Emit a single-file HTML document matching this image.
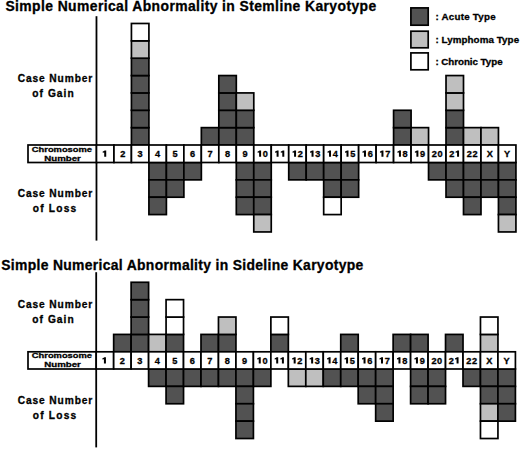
<!DOCTYPE html>
<html><head><meta charset="utf-8"><style>
html,body{margin:0;padding:0;background:#fff;}
body{width:520px;height:449px;overflow:hidden;}
svg{display:block;}
text{font-family:"Liberation Sans",sans-serif;font-weight:bold;fill:#000;stroke:#000;stroke-width:0.3px;}
</style></head><body>
<svg width="520" height="449" viewBox="0 0 520 449">
<text x="5.40" y="10.90" font-size="13.9" text-anchor="start" textLength="370.80" lengthAdjust="spacing">Simple Numerical Abnormality in Stemline Karyotype</text>
<line x1="96.48" y1="16.2" x2="96.48" y2="240.6" stroke="#000" stroke-width="1.8"/>
<rect x="131.43" y="127.64" width="17.48" height="17.36" fill="#525252" stroke="#000" stroke-width="1.7"/>
<rect x="131.43" y="110.28" width="17.48" height="17.36" fill="#525252" stroke="#000" stroke-width="1.7"/>
<rect x="131.43" y="92.92" width="17.48" height="17.36" fill="#525252" stroke="#000" stroke-width="1.7"/>
<rect x="131.43" y="75.56" width="17.48" height="17.36" fill="#525252" stroke="#000" stroke-width="1.7"/>
<rect x="131.43" y="58.20" width="17.48" height="17.36" fill="#525252" stroke="#000" stroke-width="1.7"/>
<rect x="131.43" y="40.84" width="17.48" height="17.36" fill="#bfbfbf" stroke="#000" stroke-width="1.7"/>
<rect x="131.43" y="23.48" width="17.48" height="17.36" fill="#ffffff" stroke="#000" stroke-width="1.7"/>
<rect x="201.34" y="127.64" width="17.48" height="17.36" fill="#525252" stroke="#000" stroke-width="1.7"/>
<rect x="218.82" y="127.64" width="17.48" height="17.36" fill="#525252" stroke="#000" stroke-width="1.7"/>
<rect x="218.82" y="110.28" width="17.48" height="17.36" fill="#525252" stroke="#000" stroke-width="1.7"/>
<rect x="218.82" y="92.92" width="17.48" height="17.36" fill="#525252" stroke="#000" stroke-width="1.7"/>
<rect x="218.82" y="75.56" width="17.48" height="17.36" fill="#525252" stroke="#000" stroke-width="1.7"/>
<rect x="236.30" y="127.64" width="17.48" height="17.36" fill="#525252" stroke="#000" stroke-width="1.7"/>
<rect x="236.30" y="110.28" width="17.48" height="17.36" fill="#525252" stroke="#000" stroke-width="1.7"/>
<rect x="236.30" y="92.92" width="17.48" height="17.36" fill="#bfbfbf" stroke="#000" stroke-width="1.7"/>
<rect x="393.59" y="127.64" width="17.48" height="17.36" fill="#525252" stroke="#000" stroke-width="1.7"/>
<rect x="393.59" y="110.28" width="17.48" height="17.36" fill="#525252" stroke="#000" stroke-width="1.7"/>
<rect x="411.07" y="127.64" width="17.48" height="17.36" fill="#bfbfbf" stroke="#000" stroke-width="1.7"/>
<rect x="446.02" y="127.64" width="17.48" height="17.36" fill="#525252" stroke="#000" stroke-width="1.7"/>
<rect x="446.02" y="110.28" width="17.48" height="17.36" fill="#525252" stroke="#000" stroke-width="1.7"/>
<rect x="446.02" y="92.92" width="17.48" height="17.36" fill="#bfbfbf" stroke="#000" stroke-width="1.7"/>
<rect x="446.02" y="75.56" width="17.48" height="17.36" fill="#bfbfbf" stroke="#000" stroke-width="1.7"/>
<rect x="463.50" y="127.64" width="17.48" height="17.36" fill="#bfbfbf" stroke="#000" stroke-width="1.7"/>
<rect x="480.97" y="127.64" width="17.48" height="17.36" fill="#bfbfbf" stroke="#000" stroke-width="1.7"/>
<rect x="148.91" y="162.50" width="17.48" height="17.36" fill="#525252" stroke="#000" stroke-width="1.7"/>
<rect x="148.91" y="179.86" width="17.48" height="17.36" fill="#525252" stroke="#000" stroke-width="1.7"/>
<rect x="148.91" y="197.22" width="17.48" height="17.36" fill="#525252" stroke="#000" stroke-width="1.7"/>
<rect x="166.39" y="162.50" width="17.48" height="17.36" fill="#525252" stroke="#000" stroke-width="1.7"/>
<rect x="166.39" y="179.86" width="17.48" height="17.36" fill="#525252" stroke="#000" stroke-width="1.7"/>
<rect x="183.87" y="162.50" width="17.48" height="17.36" fill="#525252" stroke="#000" stroke-width="1.7"/>
<rect x="236.30" y="162.50" width="17.48" height="17.36" fill="#525252" stroke="#000" stroke-width="1.7"/>
<rect x="236.30" y="179.86" width="17.48" height="17.36" fill="#525252" stroke="#000" stroke-width="1.7"/>
<rect x="236.30" y="197.22" width="17.48" height="17.36" fill="#525252" stroke="#000" stroke-width="1.7"/>
<rect x="253.77" y="162.50" width="17.48" height="17.36" fill="#525252" stroke="#000" stroke-width="1.7"/>
<rect x="253.77" y="179.86" width="17.48" height="17.36" fill="#525252" stroke="#000" stroke-width="1.7"/>
<rect x="253.77" y="197.22" width="17.48" height="17.36" fill="#525252" stroke="#000" stroke-width="1.7"/>
<rect x="253.77" y="214.58" width="17.48" height="17.36" fill="#bfbfbf" stroke="#000" stroke-width="1.7"/>
<rect x="288.73" y="162.50" width="17.48" height="17.36" fill="#525252" stroke="#000" stroke-width="1.7"/>
<rect x="306.20" y="162.50" width="17.48" height="17.36" fill="#525252" stroke="#000" stroke-width="1.7"/>
<rect x="323.68" y="162.50" width="17.48" height="17.36" fill="#525252" stroke="#000" stroke-width="1.7"/>
<rect x="323.68" y="179.86" width="17.48" height="17.36" fill="#525252" stroke="#000" stroke-width="1.7"/>
<rect x="323.68" y="197.22" width="17.48" height="17.36" fill="#ffffff" stroke="#000" stroke-width="1.7"/>
<rect x="341.16" y="162.50" width="17.48" height="17.36" fill="#525252" stroke="#000" stroke-width="1.7"/>
<rect x="341.16" y="179.86" width="17.48" height="17.36" fill="#525252" stroke="#000" stroke-width="1.7"/>
<rect x="428.54" y="162.50" width="17.48" height="17.36" fill="#525252" stroke="#000" stroke-width="1.7"/>
<rect x="446.02" y="162.50" width="17.48" height="17.36" fill="#525252" stroke="#000" stroke-width="1.7"/>
<rect x="446.02" y="179.86" width="17.48" height="17.36" fill="#525252" stroke="#000" stroke-width="1.7"/>
<rect x="463.50" y="162.50" width="17.48" height="17.36" fill="#525252" stroke="#000" stroke-width="1.7"/>
<rect x="463.50" y="179.86" width="17.48" height="17.36" fill="#525252" stroke="#000" stroke-width="1.7"/>
<rect x="463.50" y="197.22" width="17.48" height="17.36" fill="#525252" stroke="#000" stroke-width="1.7"/>
<rect x="480.97" y="162.50" width="17.48" height="17.36" fill="#525252" stroke="#000" stroke-width="1.7"/>
<rect x="480.97" y="179.86" width="17.48" height="17.36" fill="#525252" stroke="#000" stroke-width="1.7"/>
<rect x="498.45" y="162.50" width="17.48" height="17.36" fill="#525252" stroke="#000" stroke-width="1.7"/>
<rect x="498.45" y="179.86" width="17.48" height="17.36" fill="#525252" stroke="#000" stroke-width="1.7"/>
<rect x="498.45" y="197.22" width="17.48" height="17.36" fill="#525252" stroke="#000" stroke-width="1.7"/>
<rect x="498.45" y="214.58" width="17.48" height="17.36" fill="#bfbfbf" stroke="#000" stroke-width="1.7"/>
<rect x="28.00" y="145.00" width="68.48" height="17.50" fill="#ffffff" stroke="#000" stroke-width="1.7"/>
<rect x="96.48" y="145.00" width="17.48" height="17.50" fill="#ffffff" stroke="#000" stroke-width="1.7"/>
<path d="M106.22,150.40 L104.57,150.40 L104.02,150.95 L102.72,151.55 L102.72,152.65 L104.22,152.45 L104.22,156.75 L106.22,156.75Z" fill="#000"/>
<rect x="113.96" y="145.00" width="17.48" height="17.50" fill="#ffffff" stroke="#000" stroke-width="1.7"/>
<text x="122.70" y="156.75" font-size="9.2" text-anchor="middle">2</text>
<rect x="131.43" y="145.00" width="17.48" height="17.50" fill="#ffffff" stroke="#000" stroke-width="1.7"/>
<text x="140.17" y="156.75" font-size="9.2" text-anchor="middle">3</text>
<rect x="148.91" y="145.00" width="17.48" height="17.50" fill="#ffffff" stroke="#000" stroke-width="1.7"/>
<text x="157.65" y="156.75" font-size="9.2" text-anchor="middle">4</text>
<rect x="166.39" y="145.00" width="17.48" height="17.50" fill="#ffffff" stroke="#000" stroke-width="1.7"/>
<text x="175.13" y="156.75" font-size="9.2" text-anchor="middle">5</text>
<rect x="183.87" y="145.00" width="17.48" height="17.50" fill="#ffffff" stroke="#000" stroke-width="1.7"/>
<text x="192.60" y="156.75" font-size="9.2" text-anchor="middle">6</text>
<rect x="201.34" y="145.00" width="17.48" height="17.50" fill="#ffffff" stroke="#000" stroke-width="1.7"/>
<text x="210.08" y="156.75" font-size="9.2" text-anchor="middle">7</text>
<rect x="218.82" y="145.00" width="17.48" height="17.50" fill="#ffffff" stroke="#000" stroke-width="1.7"/>
<text x="227.56" y="156.75" font-size="9.2" text-anchor="middle">8</text>
<rect x="236.30" y="145.00" width="17.48" height="17.50" fill="#ffffff" stroke="#000" stroke-width="1.7"/>
<text x="245.03" y="156.75" font-size="9.2" text-anchor="middle">9</text>
<rect x="253.77" y="145.00" width="17.48" height="17.50" fill="#ffffff" stroke="#000" stroke-width="1.7"/>
<path d="M261.11,150.40 L259.46,150.40 L258.91,150.95 L257.61,151.55 L257.61,152.65 L259.11,152.45 L259.11,156.75 L261.11,156.75Z" fill="#000"/>
<text x="265.36" y="156.75" font-size="9.2" text-anchor="middle">0</text>
<rect x="271.25" y="145.00" width="17.48" height="17.50" fill="#ffffff" stroke="#000" stroke-width="1.7"/>
<path d="M278.59,150.40 L276.94,150.40 L276.39,150.95 L275.09,151.55 L275.09,152.65 L276.59,152.45 L276.59,156.75 L278.59,156.75Z" fill="#000"/>
<path d="M284.29,150.40 L282.64,150.40 L282.09,150.95 L280.79,151.55 L280.79,152.65 L282.29,152.45 L282.29,156.75 L284.29,156.75Z" fill="#000"/>
<rect x="288.73" y="145.00" width="17.48" height="17.50" fill="#ffffff" stroke="#000" stroke-width="1.7"/>
<path d="M296.07,150.40 L294.42,150.40 L293.87,150.95 L292.57,151.55 L292.57,152.65 L294.07,152.45 L294.07,156.75 L296.07,156.75Z" fill="#000"/>
<text x="300.32" y="156.75" font-size="9.2" text-anchor="middle">2</text>
<rect x="306.20" y="145.00" width="17.48" height="17.50" fill="#ffffff" stroke="#000" stroke-width="1.7"/>
<path d="M313.54,150.40 L311.89,150.40 L311.34,150.95 L310.04,151.55 L310.04,152.65 L311.54,152.45 L311.54,156.75 L313.54,156.75Z" fill="#000"/>
<text x="317.79" y="156.75" font-size="9.2" text-anchor="middle">3</text>
<rect x="323.68" y="145.00" width="17.48" height="17.50" fill="#ffffff" stroke="#000" stroke-width="1.7"/>
<path d="M331.02,150.40 L329.37,150.40 L328.82,150.95 L327.52,151.55 L327.52,152.65 L329.02,152.45 L329.02,156.75 L331.02,156.75Z" fill="#000"/>
<text x="335.27" y="156.75" font-size="9.2" text-anchor="middle">4</text>
<rect x="341.16" y="145.00" width="17.48" height="17.50" fill="#ffffff" stroke="#000" stroke-width="1.7"/>
<path d="M348.50,150.40 L346.85,150.40 L346.30,150.95 L345.00,151.55 L345.00,152.65 L346.50,152.45 L346.50,156.75 L348.50,156.75Z" fill="#000"/>
<text x="352.75" y="156.75" font-size="9.2" text-anchor="middle">5</text>
<rect x="358.64" y="145.00" width="17.48" height="17.50" fill="#ffffff" stroke="#000" stroke-width="1.7"/>
<path d="M365.97,150.40 L364.32,150.40 L363.77,150.95 L362.47,151.55 L362.47,152.65 L363.97,152.45 L363.97,156.75 L365.97,156.75Z" fill="#000"/>
<text x="370.22" y="156.75" font-size="9.2" text-anchor="middle">6</text>
<rect x="376.11" y="145.00" width="17.48" height="17.50" fill="#ffffff" stroke="#000" stroke-width="1.7"/>
<path d="M383.45,150.40 L381.80,150.40 L381.25,150.95 L379.95,151.55 L379.95,152.65 L381.45,152.45 L381.45,156.75 L383.45,156.75Z" fill="#000"/>
<text x="387.70" y="156.75" font-size="9.2" text-anchor="middle">7</text>
<rect x="393.59" y="145.00" width="17.48" height="17.50" fill="#ffffff" stroke="#000" stroke-width="1.7"/>
<path d="M400.93,150.40 L399.28,150.40 L398.73,150.95 L397.43,151.55 L397.43,152.65 L398.93,152.45 L398.93,156.75 L400.93,156.75Z" fill="#000"/>
<text x="405.18" y="156.75" font-size="9.2" text-anchor="middle">8</text>
<rect x="411.07" y="145.00" width="17.48" height="17.50" fill="#ffffff" stroke="#000" stroke-width="1.7"/>
<path d="M418.40,150.40 L416.75,150.40 L416.20,150.95 L414.90,151.55 L414.90,152.65 L416.40,152.45 L416.40,156.75 L418.40,156.75Z" fill="#000"/>
<text x="422.65" y="156.75" font-size="9.2" text-anchor="middle">9</text>
<rect x="428.54" y="145.00" width="17.48" height="17.50" fill="#ffffff" stroke="#000" stroke-width="1.7"/>
<text x="434.43" y="156.75" font-size="9.2" text-anchor="middle">2</text>
<text x="440.13" y="156.75" font-size="9.2" text-anchor="middle">0</text>
<rect x="446.02" y="145.00" width="17.48" height="17.50" fill="#ffffff" stroke="#000" stroke-width="1.7"/>
<text x="451.91" y="156.75" font-size="9.2" text-anchor="middle">2</text>
<path d="M459.06,150.40 L457.41,150.40 L456.86,150.95 L455.56,151.55 L455.56,152.65 L457.06,152.45 L457.06,156.75 L459.06,156.75Z" fill="#000"/>
<rect x="463.50" y="145.00" width="17.48" height="17.50" fill="#ffffff" stroke="#000" stroke-width="1.7"/>
<text x="469.39" y="156.75" font-size="9.2" text-anchor="middle">2</text>
<text x="475.09" y="156.75" font-size="9.2" text-anchor="middle">2</text>
<rect x="480.97" y="145.00" width="17.48" height="17.50" fill="#ffffff" stroke="#000" stroke-width="1.7"/>
<text x="489.71" y="156.75" font-size="9.2" text-anchor="middle">X</text>
<rect x="498.45" y="145.00" width="17.48" height="17.50" fill="#ffffff" stroke="#000" stroke-width="1.7"/>
<text x="507.19" y="156.75" font-size="9.2" text-anchor="middle">Y</text>
<text x="61.90" y="151.60" font-size="7.9" text-anchor="middle" textLength="60.20" lengthAdjust="spacingAndGlyphs">Chromosome</text>
<text x="62.60" y="160.50" font-size="7.9" text-anchor="middle" textLength="36.60" lengthAdjust="spacingAndGlyphs">Number</text>
<text x="55.00" y="82.40" font-size="10.2" text-anchor="middle" textLength="74.50" lengthAdjust="spacing">Case Number</text>
<text x="53.00" y="96.90" font-size="10.2" text-anchor="middle" textLength="41.30" lengthAdjust="spacing">of Gain</text>
<text x="55.00" y="197.20" font-size="10.2" text-anchor="middle" textLength="74.50" lengthAdjust="spacing">Case Number</text>
<text x="54.50" y="211.90" font-size="10.2" text-anchor="middle" textLength="43.30" lengthAdjust="spacing">of Loss</text>
<text x="1.20" y="269.50" font-size="13.9" text-anchor="start" textLength="362.10" lengthAdjust="spacing">Simple Numerical Abnormality in Sideline Karyotype</text>
<line x1="96.20" y1="272.2" x2="96.20" y2="447.4" stroke="#000" stroke-width="1.8"/>
<rect x="113.67" y="334.42" width="17.47" height="17.38" fill="#525252" stroke="#000" stroke-width="1.7"/>
<rect x="131.13" y="334.42" width="17.47" height="17.38" fill="#525252" stroke="#000" stroke-width="1.7"/>
<rect x="131.13" y="317.04" width="17.47" height="17.38" fill="#525252" stroke="#000" stroke-width="1.7"/>
<rect x="131.13" y="299.66" width="17.47" height="17.38" fill="#525252" stroke="#000" stroke-width="1.7"/>
<rect x="131.13" y="282.28" width="17.47" height="17.38" fill="#525252" stroke="#000" stroke-width="1.7"/>
<rect x="148.60" y="334.42" width="17.47" height="17.38" fill="#bfbfbf" stroke="#000" stroke-width="1.7"/>
<rect x="166.07" y="334.42" width="17.47" height="17.38" fill="#525252" stroke="#000" stroke-width="1.7"/>
<rect x="166.07" y="317.04" width="17.47" height="17.38" fill="#ffffff" stroke="#000" stroke-width="1.7"/>
<rect x="166.07" y="299.66" width="17.47" height="17.38" fill="#ffffff" stroke="#000" stroke-width="1.7"/>
<rect x="201.00" y="334.42" width="17.47" height="17.38" fill="#525252" stroke="#000" stroke-width="1.7"/>
<rect x="218.47" y="334.42" width="17.47" height="17.38" fill="#525252" stroke="#000" stroke-width="1.7"/>
<rect x="218.47" y="317.04" width="17.47" height="17.38" fill="#bfbfbf" stroke="#000" stroke-width="1.7"/>
<rect x="270.87" y="334.42" width="17.47" height="17.38" fill="#525252" stroke="#000" stroke-width="1.7"/>
<rect x="270.87" y="317.04" width="17.47" height="17.38" fill="#ffffff" stroke="#000" stroke-width="1.7"/>
<rect x="340.74" y="334.42" width="17.47" height="17.38" fill="#525252" stroke="#000" stroke-width="1.7"/>
<rect x="393.14" y="334.42" width="17.47" height="17.38" fill="#525252" stroke="#000" stroke-width="1.7"/>
<rect x="410.61" y="334.42" width="17.47" height="17.38" fill="#525252" stroke="#000" stroke-width="1.7"/>
<rect x="445.54" y="334.42" width="17.47" height="17.38" fill="#525252" stroke="#000" stroke-width="1.7"/>
<rect x="480.47" y="334.42" width="17.47" height="17.38" fill="#bfbfbf" stroke="#000" stroke-width="1.7"/>
<rect x="480.47" y="317.04" width="17.47" height="17.38" fill="#ffffff" stroke="#000" stroke-width="1.7"/>
<rect x="148.60" y="369.00" width="17.47" height="17.38" fill="#525252" stroke="#000" stroke-width="1.7"/>
<rect x="166.07" y="369.00" width="17.47" height="17.38" fill="#525252" stroke="#000" stroke-width="1.7"/>
<rect x="166.07" y="386.38" width="17.47" height="17.38" fill="#525252" stroke="#000" stroke-width="1.7"/>
<rect x="183.53" y="369.00" width="17.47" height="17.38" fill="#525252" stroke="#000" stroke-width="1.7"/>
<rect x="201.00" y="369.00" width="17.47" height="17.38" fill="#525252" stroke="#000" stroke-width="1.7"/>
<rect x="218.47" y="369.00" width="17.47" height="17.38" fill="#525252" stroke="#000" stroke-width="1.7"/>
<rect x="235.94" y="369.00" width="17.47" height="17.38" fill="#525252" stroke="#000" stroke-width="1.7"/>
<rect x="235.94" y="386.38" width="17.47" height="17.38" fill="#525252" stroke="#000" stroke-width="1.7"/>
<rect x="235.94" y="403.76" width="17.47" height="17.38" fill="#525252" stroke="#000" stroke-width="1.7"/>
<rect x="235.94" y="421.14" width="17.47" height="17.38" fill="#525252" stroke="#000" stroke-width="1.7"/>
<rect x="253.40" y="369.00" width="17.47" height="17.38" fill="#525252" stroke="#000" stroke-width="1.7"/>
<rect x="288.34" y="369.00" width="17.47" height="17.38" fill="#bfbfbf" stroke="#000" stroke-width="1.7"/>
<rect x="305.80" y="369.00" width="17.47" height="17.38" fill="#bfbfbf" stroke="#000" stroke-width="1.7"/>
<rect x="323.27" y="369.00" width="17.47" height="17.38" fill="#525252" stroke="#000" stroke-width="1.7"/>
<rect x="340.74" y="369.00" width="17.47" height="17.38" fill="#525252" stroke="#000" stroke-width="1.7"/>
<rect x="358.20" y="369.00" width="17.47" height="17.38" fill="#525252" stroke="#000" stroke-width="1.7"/>
<rect x="358.20" y="386.38" width="17.47" height="17.38" fill="#525252" stroke="#000" stroke-width="1.7"/>
<rect x="375.67" y="369.00" width="17.47" height="17.38" fill="#525252" stroke="#000" stroke-width="1.7"/>
<rect x="375.67" y="386.38" width="17.47" height="17.38" fill="#525252" stroke="#000" stroke-width="1.7"/>
<rect x="375.67" y="403.76" width="17.47" height="17.38" fill="#525252" stroke="#000" stroke-width="1.7"/>
<rect x="410.61" y="369.00" width="17.47" height="17.38" fill="#525252" stroke="#000" stroke-width="1.7"/>
<rect x="410.61" y="386.38" width="17.47" height="17.38" fill="#525252" stroke="#000" stroke-width="1.7"/>
<rect x="428.07" y="369.00" width="17.47" height="17.38" fill="#525252" stroke="#000" stroke-width="1.7"/>
<rect x="428.07" y="386.38" width="17.47" height="17.38" fill="#525252" stroke="#000" stroke-width="1.7"/>
<rect x="463.01" y="369.00" width="17.47" height="17.38" fill="#525252" stroke="#000" stroke-width="1.7"/>
<rect x="480.47" y="369.00" width="17.47" height="17.38" fill="#525252" stroke="#000" stroke-width="1.7"/>
<rect x="480.47" y="386.38" width="17.47" height="17.38" fill="#525252" stroke="#000" stroke-width="1.7"/>
<rect x="480.47" y="403.76" width="17.47" height="17.38" fill="#bfbfbf" stroke="#000" stroke-width="1.7"/>
<rect x="480.47" y="421.14" width="17.47" height="17.38" fill="#ffffff" stroke="#000" stroke-width="1.7"/>
<rect x="497.94" y="369.00" width="17.47" height="17.38" fill="#525252" stroke="#000" stroke-width="1.7"/>
<rect x="497.94" y="386.38" width="17.47" height="17.38" fill="#525252" stroke="#000" stroke-width="1.7"/>
<rect x="497.94" y="403.76" width="17.47" height="17.38" fill="#525252" stroke="#000" stroke-width="1.7"/>
<rect x="28.00" y="351.80" width="68.20" height="17.20" fill="#ffffff" stroke="#000" stroke-width="1.7"/>
<rect x="96.20" y="351.80" width="17.47" height="17.20" fill="#ffffff" stroke="#000" stroke-width="1.7"/>
<path d="M105.93,357.20 L104.28,357.20 L103.73,357.75 L102.43,358.35 L102.43,359.45 L103.93,359.25 L103.93,363.55 L105.93,363.55Z" fill="#000"/>
<rect x="113.67" y="351.80" width="17.47" height="17.20" fill="#ffffff" stroke="#000" stroke-width="1.7"/>
<text x="122.40" y="363.55" font-size="9.2" text-anchor="middle">2</text>
<rect x="131.13" y="351.80" width="17.47" height="17.20" fill="#ffffff" stroke="#000" stroke-width="1.7"/>
<text x="139.87" y="363.55" font-size="9.2" text-anchor="middle">3</text>
<rect x="148.60" y="351.80" width="17.47" height="17.20" fill="#ffffff" stroke="#000" stroke-width="1.7"/>
<text x="157.33" y="363.55" font-size="9.2" text-anchor="middle">4</text>
<rect x="166.07" y="351.80" width="17.47" height="17.20" fill="#ffffff" stroke="#000" stroke-width="1.7"/>
<text x="174.80" y="363.55" font-size="9.2" text-anchor="middle">5</text>
<rect x="183.53" y="351.80" width="17.47" height="17.20" fill="#ffffff" stroke="#000" stroke-width="1.7"/>
<text x="192.27" y="363.55" font-size="9.2" text-anchor="middle">6</text>
<rect x="201.00" y="351.80" width="17.47" height="17.20" fill="#ffffff" stroke="#000" stroke-width="1.7"/>
<text x="209.74" y="363.55" font-size="9.2" text-anchor="middle">7</text>
<rect x="218.47" y="351.80" width="17.47" height="17.20" fill="#ffffff" stroke="#000" stroke-width="1.7"/>
<text x="227.20" y="363.55" font-size="9.2" text-anchor="middle">8</text>
<rect x="235.94" y="351.80" width="17.47" height="17.20" fill="#ffffff" stroke="#000" stroke-width="1.7"/>
<text x="244.67" y="363.55" font-size="9.2" text-anchor="middle">9</text>
<rect x="253.40" y="351.80" width="17.47" height="17.20" fill="#ffffff" stroke="#000" stroke-width="1.7"/>
<path d="M260.74,357.20 L259.09,357.20 L258.54,357.75 L257.24,358.35 L257.24,359.45 L258.74,359.25 L258.74,363.55 L260.74,363.55Z" fill="#000"/>
<text x="264.99" y="363.55" font-size="9.2" text-anchor="middle">0</text>
<rect x="270.87" y="351.80" width="17.47" height="17.20" fill="#ffffff" stroke="#000" stroke-width="1.7"/>
<path d="M278.20,357.20 L276.55,357.20 L276.00,357.75 L274.70,358.35 L274.70,359.45 L276.20,359.25 L276.20,363.55 L278.20,363.55Z" fill="#000"/>
<path d="M283.90,357.20 L282.25,357.20 L281.70,357.75 L280.40,358.35 L280.40,359.45 L281.90,359.25 L281.90,363.55 L283.90,363.55Z" fill="#000"/>
<rect x="288.34" y="351.80" width="17.47" height="17.20" fill="#ffffff" stroke="#000" stroke-width="1.7"/>
<path d="M295.67,357.20 L294.02,357.20 L293.47,357.75 L292.17,358.35 L292.17,359.45 L293.67,359.25 L293.67,363.55 L295.67,363.55Z" fill="#000"/>
<text x="299.92" y="363.55" font-size="9.2" text-anchor="middle">2</text>
<rect x="305.80" y="351.80" width="17.47" height="17.20" fill="#ffffff" stroke="#000" stroke-width="1.7"/>
<path d="M313.14,357.20 L311.49,357.20 L310.94,357.75 L309.64,358.35 L309.64,359.45 L311.14,359.25 L311.14,363.55 L313.14,363.55Z" fill="#000"/>
<text x="317.39" y="363.55" font-size="9.2" text-anchor="middle">3</text>
<rect x="323.27" y="351.80" width="17.47" height="17.20" fill="#ffffff" stroke="#000" stroke-width="1.7"/>
<path d="M330.60,357.20 L328.95,357.20 L328.40,357.75 L327.10,358.35 L327.10,359.45 L328.60,359.25 L328.60,363.55 L330.60,363.55Z" fill="#000"/>
<text x="334.85" y="363.55" font-size="9.2" text-anchor="middle">4</text>
<rect x="340.74" y="351.80" width="17.47" height="17.20" fill="#ffffff" stroke="#000" stroke-width="1.7"/>
<path d="M348.07,357.20 L346.42,357.20 L345.87,357.75 L344.57,358.35 L344.57,359.45 L346.07,359.25 L346.07,363.55 L348.07,363.55Z" fill="#000"/>
<text x="352.32" y="363.55" font-size="9.2" text-anchor="middle">5</text>
<rect x="358.20" y="351.80" width="17.47" height="17.20" fill="#ffffff" stroke="#000" stroke-width="1.7"/>
<path d="M365.54,357.20 L363.89,357.20 L363.34,357.75 L362.04,358.35 L362.04,359.45 L363.54,359.25 L363.54,363.55 L365.54,363.55Z" fill="#000"/>
<text x="369.79" y="363.55" font-size="9.2" text-anchor="middle">6</text>
<rect x="375.67" y="351.80" width="17.47" height="17.20" fill="#ffffff" stroke="#000" stroke-width="1.7"/>
<path d="M383.01,357.20 L381.36,357.20 L380.81,357.75 L379.51,358.35 L379.51,359.45 L381.01,359.25 L381.01,363.55 L383.01,363.55Z" fill="#000"/>
<text x="387.26" y="363.55" font-size="9.2" text-anchor="middle">7</text>
<rect x="393.14" y="351.80" width="17.47" height="17.20" fill="#ffffff" stroke="#000" stroke-width="1.7"/>
<path d="M400.47,357.20 L398.82,357.20 L398.27,357.75 L396.97,358.35 L396.97,359.45 L398.47,359.25 L398.47,363.55 L400.47,363.55Z" fill="#000"/>
<text x="404.72" y="363.55" font-size="9.2" text-anchor="middle">8</text>
<rect x="410.61" y="351.80" width="17.47" height="17.20" fill="#ffffff" stroke="#000" stroke-width="1.7"/>
<path d="M417.94,357.20 L416.29,357.20 L415.74,357.75 L414.44,358.35 L414.44,359.45 L415.94,359.25 L415.94,363.55 L417.94,363.55Z" fill="#000"/>
<text x="422.19" y="363.55" font-size="9.2" text-anchor="middle">9</text>
<rect x="428.07" y="351.80" width="17.47" height="17.20" fill="#ffffff" stroke="#000" stroke-width="1.7"/>
<text x="433.96" y="363.55" font-size="9.2" text-anchor="middle">2</text>
<text x="439.66" y="363.55" font-size="9.2" text-anchor="middle">0</text>
<rect x="445.54" y="351.80" width="17.47" height="17.20" fill="#ffffff" stroke="#000" stroke-width="1.7"/>
<text x="451.42" y="363.55" font-size="9.2" text-anchor="middle">2</text>
<path d="M458.57,357.20 L456.92,357.20 L456.37,357.75 L455.07,358.35 L455.07,359.45 L456.57,359.25 L456.57,363.55 L458.57,363.55Z" fill="#000"/>
<rect x="463.01" y="351.80" width="17.47" height="17.20" fill="#ffffff" stroke="#000" stroke-width="1.7"/>
<text x="468.89" y="363.55" font-size="9.2" text-anchor="middle">2</text>
<text x="474.59" y="363.55" font-size="9.2" text-anchor="middle">2</text>
<rect x="480.47" y="351.80" width="17.47" height="17.20" fill="#ffffff" stroke="#000" stroke-width="1.7"/>
<text x="489.21" y="363.55" font-size="9.2" text-anchor="middle">X</text>
<rect x="497.94" y="351.80" width="17.47" height="17.20" fill="#ffffff" stroke="#000" stroke-width="1.7"/>
<text x="506.67" y="363.55" font-size="9.2" text-anchor="middle">Y</text>
<text x="61.90" y="358.40" font-size="7.9" text-anchor="middle" textLength="60.20" lengthAdjust="spacingAndGlyphs">Chromosome</text>
<text x="62.60" y="367.30" font-size="7.9" text-anchor="middle" textLength="36.60" lengthAdjust="spacingAndGlyphs">Number</text>
<text x="55.00" y="308.40" font-size="10.2" text-anchor="middle" textLength="74.50" lengthAdjust="spacing">Case Number</text>
<text x="53.00" y="323.20" font-size="10.2" text-anchor="middle" textLength="41.30" lengthAdjust="spacing">of Gain</text>
<text x="55.00" y="404.30" font-size="10.2" text-anchor="middle" textLength="74.50" lengthAdjust="spacing">Case Number</text>
<text x="54.50" y="419.00" font-size="10.2" text-anchor="middle" textLength="43.30" lengthAdjust="spacing">of Loss</text>
<rect x="410.90" y="7.90" width="17.30" height="17.30" fill="#525252" stroke="#000" stroke-width="1.7"/>
<rect x="410.90" y="31.20" width="17.30" height="16.60" fill="#bfbfbf" stroke="#000" stroke-width="1.7"/>
<rect x="410.90" y="52.90" width="17.30" height="16.90" fill="#ffffff" stroke="#000" stroke-width="1.7"/>
<text x="435.40" y="19.80" font-size="9.8" text-anchor="start" textLength="60.20" lengthAdjust="spacing">: Acute Type</text>
<text x="435.40" y="43.10" font-size="9.8" text-anchor="start" textLength="83.70" lengthAdjust="spacing">: Lymphoma Type</text>
<text x="435.40" y="64.50" font-size="9.8" text-anchor="start" textLength="67.20" lengthAdjust="spacing">: Chronic Type</text>
</svg>
</body></html>
